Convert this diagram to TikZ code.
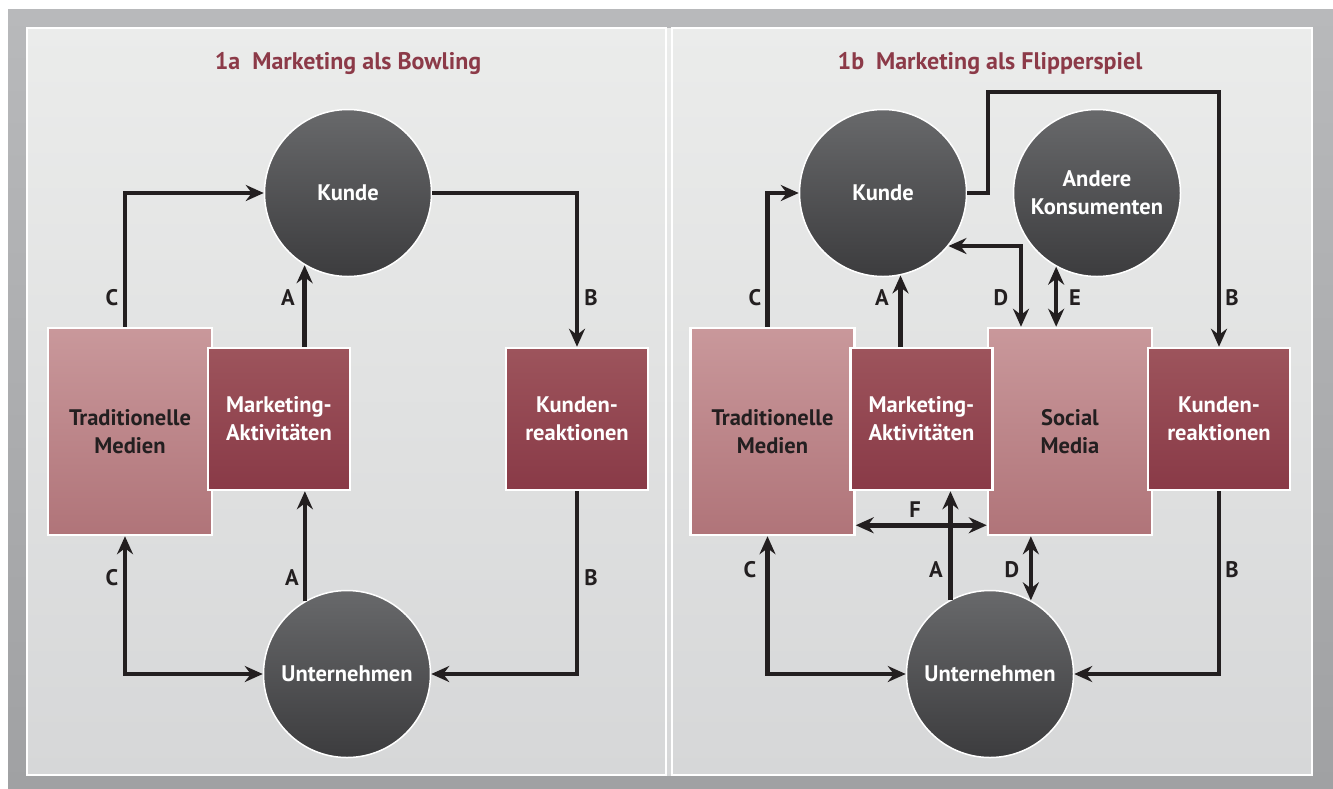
\documentclass[tikz,border=0pt]{standalone}
\usepackage{fontspec}
\setmainfont{PT Sans}
\usetikzlibrary{arrows.meta,positioning}
\definecolor{titelrot}{RGB}{140,58,72}
\definecolor{kreisoben}{RGB}{104,105,107}
\definecolor{kreisunten}{RGB}{60,60,62}
\definecolor{dunkeloben}{RGB}{157,84,92}
\definecolor{dunkelunten}{RGB}{137,58,71}
\definecolor{helloben}{RGB}{201,152,155}
\definecolor{hellunten}{RGB}{176,116,121}
\definecolor{feldoben}{RGB}{235,236,235}
\definecolor{feldunten}{RGB}{214,215,216}
\definecolor{randoben}{RGB}{184,185,187}
\definecolor{randunten}{RGB}{160,161,163}
\definecolor{tinte}{RGB}{35,31,32}
\newcommand{\schrift}{\bfseries\fontsize{22.5}{28}\selectfont}
\newcommand{\titelschrift}{\bfseries\fontsize{24}{28}\selectfont}
\begin{document}
\begin{tikzpicture}[x=1pt,y=-1pt]
    \tikzset{kreis/.style = {shape=circle,draw=white,line width=1.5pt,minimum size=167pt,inner sep=0pt,
        top color=kreisoben,bottom color=kreisunten,text=white,font=\schrift,align=center}}
    \tikzset{kasten/.style = {shape=rectangle,draw=white,line width=2.5pt,inner sep=0pt,font=\schrift,align=center}}
    \tikzset{dunkel/.style = {kasten,minimum width=142pt,minimum height=142pt,
        top color=dunkeloben,bottom color=dunkelunten,text=white}}
    \tikzset{hell/.style = {kasten,minimum width=164pt,minimum height=207pt,
        top color=helloben,bottom color=hellunten,text=tinte}}
    \tikzset{pfeil/.style = {-{Stealth[length=18pt,width=16pt,inset=6pt]},line width=4.5pt,draw=tinte}}
    \tikzset{doppel/.style = {{Stealth[length=18pt,width=16pt,inset=6pt]}-{Stealth[length=18pt,width=16pt,inset=6pt]},line width=4.5pt,draw=tinte}}
    \tikzset{buchstabe/.style = {font=\schrift,text=tinte}}
    \tikzset{titel/.style = {font=\titelschrift,text=titelrot}}
    \useasboundingbox (0,0) rectangle (1333,788);
    % background and panels
    \fill[white] (0,0) rectangle (1333,788);
    \shade[top color=randoben,bottom color=randunten] (8,9) rectangle (1333,788);
    \shade[top color=feldoben,bottom color=feldunten] (27,28) rectangle (1312,775);
    \shade[top color=feldoben,bottom color=feldunten,draw=white,line width=2pt] (27,28) rectangle (666,775);
    \shade[top color=feldoben,bottom color=feldunten,draw=white,line width=2pt] (672,28) rectangle (1312,775);
    \node[titel] (titelL) at (348,63) {1a\enspace Marketing als Bowling};
    \node[titel] (titelR) at (990,63) {1b\enspace Marketing als Flipperspiel};
    % bowling: nodes
    \node[kreis] (kundeL) at (348,193) {Kunde};
    \node[kreis] (untL) at (347,674) {Unternehmen};
    \node[hell] (trL) at (130,431.5) {Traditionelle\\Medien};
    \node[dunkel] (mktL) at (279,419) {Marketing-\\Aktivitäten};
    \node[dunkel] (krL) at (577,419) {Kunden-\\reaktionen};
    % bowling: arrows
    \draw[pfeil] ([xshift=-5pt]trL.north) |- (kundeL.west);
    \draw[pfeil] (kundeL.-121 |- mktL.north) -- (kundeL.-121);
    \draw[pfeil] (kundeL.east) -| (krL.north);
    \draw[pfeil] (krL.south) |- (untL.east);
    \draw[pfeil] (untL.120) -- (untL.120 |- mktL.south);
    \draw[doppel] ([xshift=-5pt]trL.south) |- (untL.west);
    \node[buchstabe] (cL1) at (112,298) {C};
    \node[buchstabe] (aL1) at (288,298) {A};
    \node[buchstabe] (bL1) at (591,298) {B};
    \node[buchstabe] (cL2) at (112,578) {C};
    \node[buchstabe] (aL2) at (292,578) {A};
    \node[buchstabe] (bL2) at (591,578) {B};
    % flipper: nodes
    \node[kreis] (kundeR) at (883,193) {Kunde};
    \node[kreis] (andR) at (1097,193) {Andere\\Konsumenten};
    \node[kreis] (untR) at (990,674) {Unternehmen};
    \node[hell] (trR) at (772.5,431.5) {Traditionelle\\Medien};
    \node[hell] (socR) at (1070,431.5) {Social\\Media};
    \node[dunkel] (mktR) at (921.5,419) {Marketing-\\Aktivitäten};
    \node[dunkel] (krR) at (1219,419) {Kunden-\\reaktionen};
    \coordinate (knick) at (988,92);
    % flipper: arrows
    \draw[pfeil] ([xshift=-5pt]trR.north) |- (kundeR.west);
    \draw[pfeil] (kundeR.-78 |- mktR.north) -- (kundeR.-78);
    \draw[pfeil] (kundeR.east) -| (knick) -| (krR.north);
    \draw[doppel] (kundeR.-39) -| ([xshift=-49pt]socR.north);
    \draw[doppel] (andR.-119) -- (andR.-119 |- socR.north);
    \draw[pfeil] (krR.south) |- (untR.east);
    \draw[doppel] ([xshift=-5pt]trR.south) |- (untR.west);
    \draw[pfeil] (untR.118) -- (untR.118 |- mktR.south);
    \draw[doppel] ([yshift=11pt]trR.south east) -- ([yshift=11pt]socR.south west);
    \draw[doppel] (untR.61 |- socR.south) -- (untR.61);
    \node[buchstabe] (cR1) at (755,298) {C};
    \node[buchstabe] (aR1) at (882,298) {A};
    \node[buchstabe] (dR1) at (1001,298) {D};
    \node[buchstabe] (eR1) at (1075,298) {E};
    \node[buchstabe] (bR1) at (1232,298) {B};
    \node[buchstabe] (fR1) at (915,510) {F};
    \node[buchstabe] (cR2) at (750,570) {C};
    \node[buchstabe] (aR2) at (936,570) {A};
    \node[buchstabe] (dR2) at (1012,570) {D};
    \node[buchstabe] (bR2) at (1232,570) {B};
\end{tikzpicture}
\end{document}
